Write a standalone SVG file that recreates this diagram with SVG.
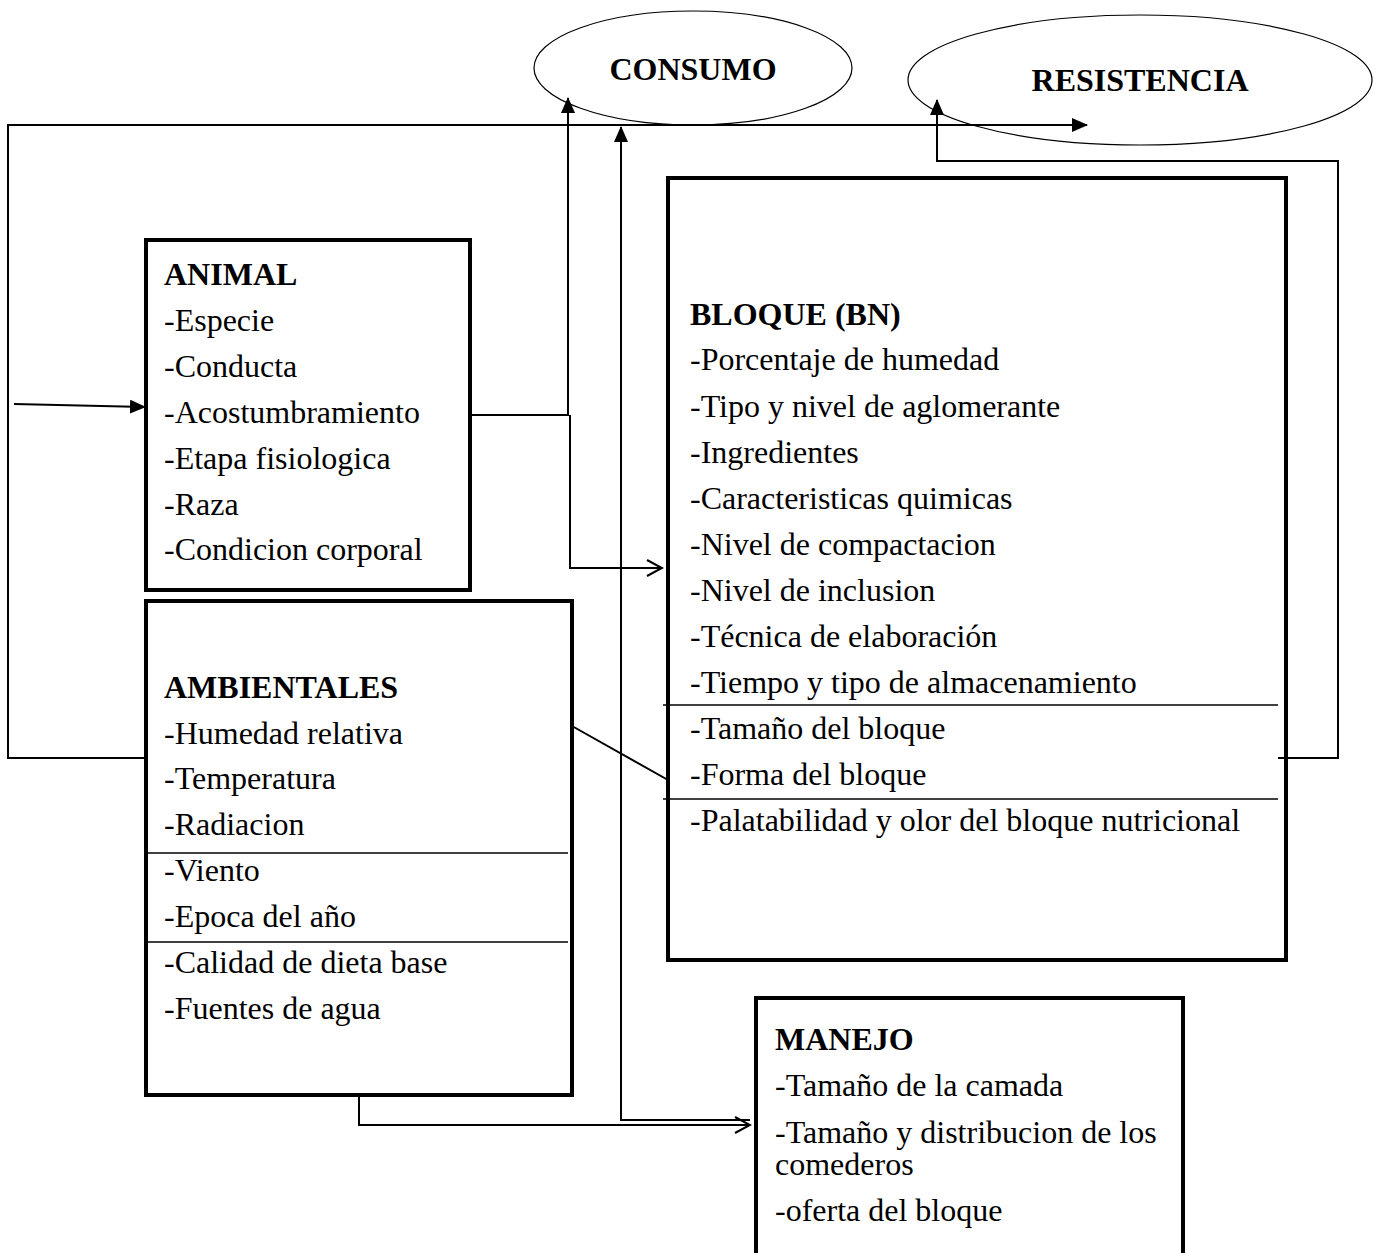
<svg xmlns="http://www.w3.org/2000/svg" width="1379" height="1253" viewBox="0 0 1379 1253">
<style>
.box{fill:#fff;stroke:#000;stroke-width:4}
.ell{fill:#fff;stroke:#000;stroke-width:1.2}
.t{font-family:"Liberation Serif","Times New Roman",serif;font-size:32px;fill:#000}
.b{font-weight:bold}
.c{fill:none;stroke:#000;stroke-width:2}
.sep{stroke:#000;stroke-width:1.5}
</style>
<defs>
<marker id="fa" markerWidth="16" markerHeight="14" refX="15" refY="7" orient="auto" markerUnits="userSpaceOnUse">
<path d="M0,0 L16,7 L0,14 Z" fill="#000"/>
</marker>
<marker id="oa" markerWidth="20" markerHeight="20" refX="18" refY="10" orient="auto" markerUnits="userSpaceOnUse">
<path d="M3,2 L18,10 L3,18" fill="none" stroke="#000" stroke-width="2"/>
</marker>
</defs>
<g id="consumo">
<ellipse class="ell" cx="693" cy="68" rx="159" ry="57"/>
<text class="t b" x="693" y="80" text-anchor="middle">CONSUMO</text>
</g>
<g id="resistencia">
<ellipse class="ell" cx="1140" cy="80" rx="232" ry="65"/>
<text class="t b" x="1140" y="91" text-anchor="middle">RESISTENCIA</text>
</g>
<g id="animal">
<rect class="box" x="146" y="240" width="324" height="350"/>
<text class="t b" x="164" y="285">ANIMAL</text>
<text class="t" x="164" y="331">-Especie</text>
<text class="t" x="164" y="377">-Conducta</text>
<text class="t" x="164" y="423">-Acostumbramiento</text>
<text class="t" x="164" y="469">-Etapa fisiologica</text>
<text class="t" x="164" y="515">-Raza</text>
<text class="t" x="164" y="560">-Condicion corporal</text>
</g>
<g id="ambientales">
<rect class="box" x="146" y="601" width="426" height="494"/>
<text class="t b" x="164" y="698">AMBIENTALES</text>
<text class="t" x="164" y="744">-Humedad relativa</text>
<text class="t" x="164" y="789">-Temperatura</text>
<text class="t" x="164" y="835">-Radiacion</text>
<line class="sep" x1="146" y1="853" x2="568" y2="853"/>
<text class="t" x="164" y="881">-Viento</text>
<text class="t" x="164" y="927">-Epoca del año</text>
<line class="sep" x1="146" y1="942" x2="568" y2="942"/>
<text class="t" x="164" y="973">-Calidad de dieta base</text>
<text class="t" x="164" y="1019">-Fuentes de agua</text>
</g>
<g id="bloque">
<rect class="box" x="668" y="178" width="618" height="782"/>
<text class="t b" x="690" y="325">BLOQUE (BN)</text>
<text class="t" x="690" y="370">-Porcentaje de humedad</text>
<text class="t" x="690" y="417">-Tipo y nivel de aglomerante</text>
<text class="t" x="690" y="463">-Ingredientes</text>
<text class="t" x="690" y="509">-Caracteristicas quimicas</text>
<text class="t" x="690" y="555">-Nivel de compactacion</text>
<text class="t" x="690" y="601">-Nivel de inclusion</text>
<text class="t" x="690" y="647">-Técnica de elaboración</text>
<text class="t" x="690" y="693">-Tiempo y tipo de almacenamiento</text>
<line class="sep" x1="663" y1="705" x2="1278" y2="705"/>
<text class="t" x="690" y="739">-Tamaño del bloque</text>
<text class="t" x="690" y="785">-Forma del bloque</text>
<line class="sep" x1="663" y1="799" x2="1278" y2="799"/>
<text class="t" x="690" y="831">-Palatabilidad y olor del bloque nutricional</text>
</g>
<g id="manejo">
<rect class="box" x="756" y="998" width="427" height="260"/>
<text class="t b" x="775" y="1050">MANEJO</text>
<text class="t" x="775" y="1096">-Tamaño de la camada</text>
<text class="t" x="775" y="1143">-Tamaño y distribucion de los</text>
<text class="t" x="775" y="1175">comederos</text>
<text class="t" x="775" y="1221">-oferta del bloque</text>
</g>
<g id="connectors">
<polyline class="c" points="145,758 8,758 8,125 1087,125" marker-end="url(#fa)"/>
<line class="c" x1="14" y1="404" x2="145" y2="407" marker-end="url(#fa)"/>
<polyline class="c" points="470,415 568,415 568,98" marker-end="url(#fa)"/>
<polyline class="c" points="570,415 570,568 662,568" marker-end="url(#oa)"/>
<polyline class="c" points="750,1120 621,1120 621,127" marker-end="url(#fa)"/>
<polyline class="c" points="359,1095 359,1125 750,1125" marker-end="url(#oa)"/>
<line class="c" x1="572" y1="726" x2="668" y2="780"/>
<polyline class="c" points="1278,758 1338,758 1338,161 937,161 937,100" marker-end="url(#fa)"/>
</g>
</svg>
